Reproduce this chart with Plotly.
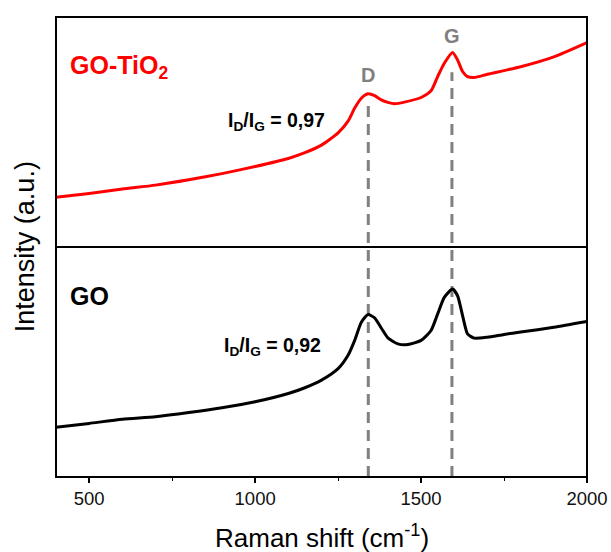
import plotly.graph_objects as go

# Raman shift (cm-1)
shift_top = [400, 500, 600, 700, 800, 900, 1000, 1100, 1150, 1200, 1250, 1280, 1300, 1320, 1340,
             1360, 1380, 1400, 1420, 1450, 1500, 1530, 1550, 1570, 1595, 1610, 1625, 1640, 1660,
             1700, 1800, 1900, 2000]
int_top = [0.216, 0.233, 0.252, 0.269, 0.292, 0.319, 0.350, 0.385, 0.410, 0.443, 0.496, 0.547, 0.604,
           0.647, 0.666, 0.658, 0.640, 0.629, 0.623, 0.630, 0.650, 0.679, 0.741, 0.799, 0.846, 0.813,
           0.763, 0.741, 0.737, 0.751, 0.784, 0.827, 0.889]

shift_bot = [400, 500, 600, 700, 800, 900, 1000, 1100, 1150, 1200, 1250, 1280, 1300, 1320, 1340,
             1360, 1380, 1400, 1430, 1460, 1500, 1530, 1550, 1570, 1595, 1610, 1625, 1640, 1660,
             1700, 1750, 1800, 1900, 2000]
int_bot = [0.216, 0.233, 0.251, 0.262, 0.280, 0.301, 0.327, 0.363, 0.388, 0.421, 0.471, 0.529, 0.594,
           0.673, 0.706, 0.692, 0.648, 0.605, 0.579, 0.576, 0.594, 0.637, 0.709, 0.781, 0.817, 0.788,
           0.702, 0.622, 0.604, 0.608, 0.620, 0.630, 0.651, 0.676]

peak_names = ["D", "G"]
peak_pos = [1341, 1593]
ratio_top = "I<sub>D</sub>/I<sub>G</sub> = 0,97"
ratio_bot = "I<sub>D</sub>/I<sub>G</sub> = 0,92"

FONT = "Liberation Sans, Arial, sans-serif"

fig = go.Figure()
fig.add_trace(go.Scatter(x=shift_bot, y=int_bot, mode="lines", line=dict(color="black", width=3, shape="spline", smoothing=0.6),
                         xaxis="x", yaxis="y", showlegend=False, hoverinfo="skip"))
fig.add_trace(go.Scatter(x=shift_top, y=int_top, mode="lines", line=dict(color="#ff0000", width=3, shape="spline", smoothing=0.6),
                         xaxis="x", yaxis="y2", showlegend=False, hoverinfo="skip"))

# dashed peak lines (paper y from bottom up to just below the labels)
dash_tops = [0.815, 0.880]
for pos, top in zip(peak_pos, dash_tops):
    fig.add_shape(type="line", xref="x", yref="paper", x0=pos, x1=pos, y0=0, y1=top,
                  line=dict(color="#808080", width=3, dash="11px,7px"), layer="below")

# frame and divider
fig.add_shape(type="rect", xref="paper", yref="paper", x0=0, x1=1, y0=0, y1=1,
              line=dict(color="black", width=2))
fig.add_shape(type="line", xref="paper", yref="paper", x0=0, x1=1, y0=0.5, y1=0.5,
              line=dict(color="black", width=2))

label_y = [0.874, 0.959]
for name, pos, ly in zip(peak_names, peak_pos, label_y):
    fig.add_annotation(x=pos, y=ly, xref="x", yref="paper", text="<b>%s</b>" % name, showarrow=False,
                       xanchor="center", yanchor="middle",
                       font=dict(family=FONT, size=20, color="#808080"))

fig.add_annotation(x=0.022, y=0.892, xref="paper", yref="paper", xanchor="left", yanchor="middle",
                   text="<b>GO-TiO<sub>2</sub></b>",
                   showarrow=False, font=dict(family=FONT, size=25, color="#ff0000"))
fig.add_annotation(x=0.022, y=0.393, xref="paper", yref="paper", xanchor="left", yanchor="middle",
                   text="<b>GO</b>",
                   showarrow=False, font=dict(family=FONT, size=25, color="black"))
fig.add_annotation(x=1064, y=0.772, xref="x", yref="paper", xanchor="center", yanchor="middle",
                   text="<b>%s</b>" % ratio_top,
                   showarrow=False, font=dict(family=FONT, size=19.5, color="black"))
fig.add_annotation(x=1052, y=0.283, xref="x", yref="paper", xanchor="center", yanchor="middle",
                   text="<b>%s</b>" % ratio_bot,
                   showarrow=False, font=dict(family=FONT, size=19.5, color="black"))

fig.add_annotation(x=-0.058, y=0.5, xref="paper", yref="paper", xanchor="center", yanchor="middle",
                   text="Intensity (a.u.)", textangle=-90,
                   showarrow=False, font=dict(family=FONT, size=27, color="black"))
fig.add_annotation(x=0.5, y=-0.13, xref="paper", yref="paper", xanchor="center", yanchor="middle",
                   text="Raman shift (cm<sup>-1</sup>)",
                   showarrow=False, font=dict(family=FONT, size=26, color="black"))

fig.update_layout(
    width=611, height=552,
    margin=dict(l=56, r=24, t=17, b=75, autoexpand=False),
    paper_bgcolor="white", plot_bgcolor="white",
    xaxis=dict(range=[400, 2000], anchor="y", tickvals=[500, 1000, 1500, 2000], ticks="outside", ticklen=5,
               tickwidth=1.5, tickcolor="black", showgrid=False, zeroline=False, showline=False, automargin=False,
               tickfont=dict(family=FONT, size=18.5, color="#111"),
               minor=dict(tickvals=[750, 1250, 1750], ticks="outside", ticklen=3, tickwidth=1.2, tickcolor="black")),
    yaxis=dict(domain=[0, 0.5], range=[0, 1], showticklabels=False, ticks="", showgrid=False, zeroline=False,
               anchor="x", automargin=False),
    yaxis2=dict(domain=[0.5, 1], range=[0, 1], showticklabels=False, ticks="", showgrid=False, zeroline=False,
                anchor="x", automargin=False),
)

fig.write_html("out.html")
